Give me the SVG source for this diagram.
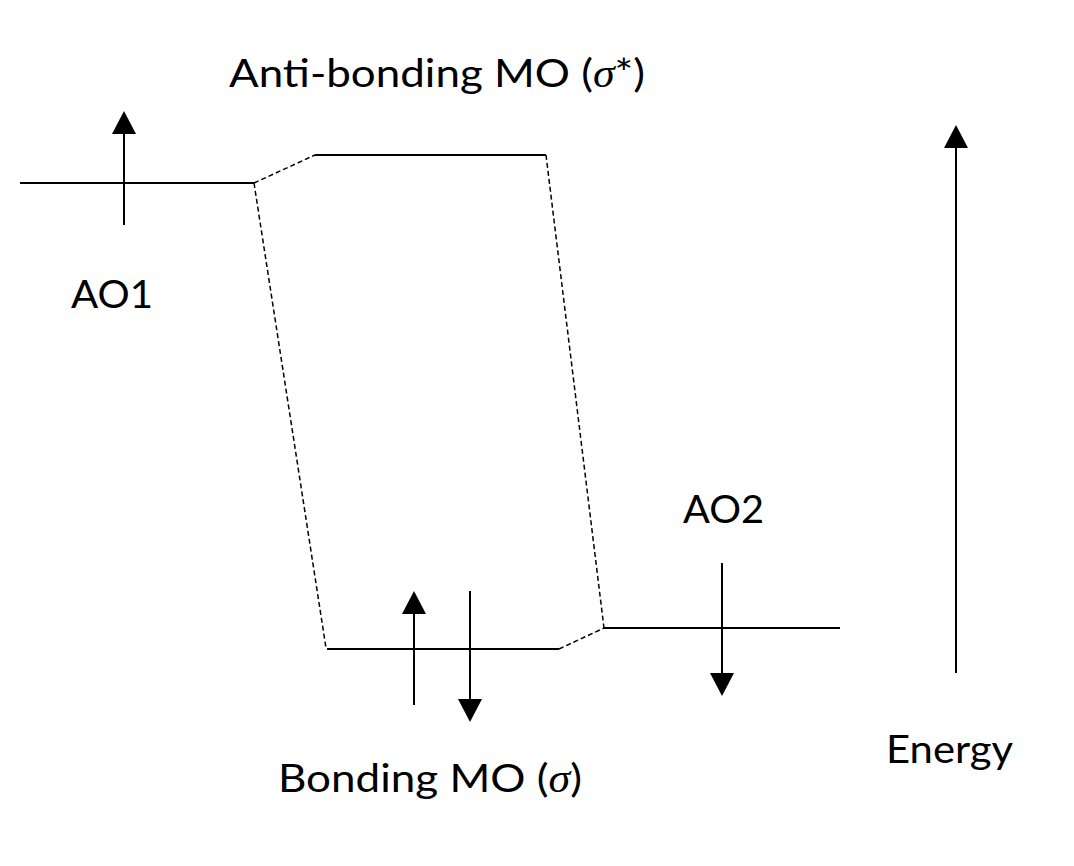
<svg xmlns="http://www.w3.org/2000/svg" width="1074" height="866" viewBox="0 0 1074 866">
<defs>
<style>
.lvl{stroke:#000;stroke-width:2;fill:none}
.dash{stroke:#000;stroke-width:1.5;fill:none;stroke-dasharray:5,3}
.arr{stroke:#000;stroke-width:2;fill:none}
.head{fill:#000}
.t{font-family:Lato,"Open Sans",sans-serif;font-size:39px;fill:#000}
.sig{font-family:"Liberation Serif",serif;font-style:italic}
</style>
</defs>
<rect width="1074" height="866" fill="#fff"/>
<g id="ao1">
<line class="lvl" x1="20" y1="183" x2="254" y2="183"/>
<line class="arr" x1="124" y1="225" x2="124" y2="132"/>
<polygon class="head" points="124,111 112,134 136,134"/>
<text class="t" x="71" y="308" textLength="82" lengthAdjust="spacingAndGlyphs">AO1</text>
</g>
<g id="antibonding">
<line class="lvl" x1="315" y1="155" x2="546" y2="155"/>
<text class="t" x="229" y="87" textLength="416" lengthAdjust="spacingAndGlyphs">Anti-bonding MO (<tspan class="sig">σ</tspan>*)</text>
</g>
<g id="bonding">
<line class="lvl" x1="327" y1="649" x2="559" y2="649"/>
<line class="arr" x1="414" y1="705" x2="414" y2="612"/>
<polygon class="head" points="414,591 402,614 426,614"/>
<line class="arr" x1="470" y1="591" x2="470" y2="702"/>
<polygon class="head" points="470,722 458,699 482,699"/>
<text class="t" x="278" y="792" textLength="304" lengthAdjust="spacingAndGlyphs">Bonding MO (<tspan class="sig">σ</tspan>)</text>
</g>
<g id="ao2">
<line class="lvl" x1="604" y1="628" x2="840" y2="628"/>
<line class="arr" x1="722" y1="563" x2="722" y2="676"/>
<polygon class="head" points="722,696 710,673 734,673"/>
<text class="t" x="683" y="523" textLength="81" lengthAdjust="spacingAndGlyphs">AO2</text>
</g>
<g id="energy">
<line class="arr" x1="956" y1="673" x2="956" y2="145"/>
<polygon class="head" points="956,125 944,148 968,148"/>
<text class="t" x="886" y="763" textLength="127" lengthAdjust="spacingAndGlyphs">Energy</text>
</g>
<g id="connectors">
<line class="dash" x1="254" y1="183" x2="315" y2="155"/>
<line class="dash" x1="254" y1="183" x2="326" y2="648"/>
<line class="dash" x1="546" y1="155" x2="604" y2="628"/>
<line class="dash" x1="559" y1="649" x2="604" y2="628"/>
</g>
</svg>
